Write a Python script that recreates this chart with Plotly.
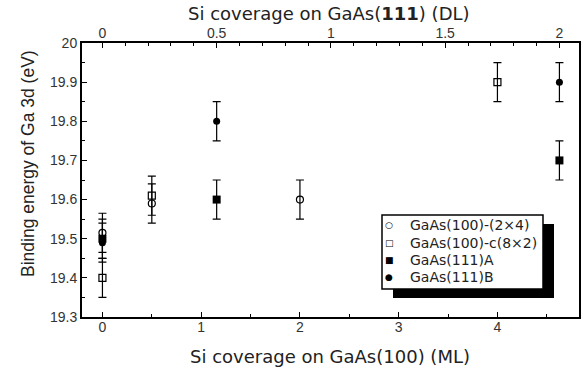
import plotly.graph_objects as go

# ---- data ----
cov100_2x4 = [0.0, 0.5, 2.0]          # ML
be_2x4 = [19.515, 19.59, 19.60]
cov100_c8x2 = [0.0, 0.5, 4.0]         # ML
be_c8x2 = [19.40, 19.61, 19.90]
cov111A = [0.0, 0.5, 2.0]             # DL
be_111A = [19.50, 19.60, 19.70]
cov111B = [0.0, 0.5, 2.0]             # DL
be_111B = [19.49, 19.80, 19.90]
err = 0.05

series_names = ["GaAs(100)-(2×4)", "GaAs(100)-c(8×2)", "GaAs(111)A", "GaAs(111)B"]
legend_glyphs = ["○", "□", "■", "●"]

y_ticks = [19.3, 19.4, 19.5, 19.6, 19.7, 19.8, 19.9, 20.0]
y_labels = ["19.3", "19.4", "19.5", "19.6", "19.7", "19.8", "19.9", "20"]
x_ticks = [0, 1, 2, 3, 4]
x_labels = ["0", "1", "2", "3", "4"]
x2_ticks = [0, 0.5, 1, 1.5, 2]
x2_labels = ["0", "0.5", "1", "1.5", "2"]

FONT = "Liberation Sans, Arial, sans-serif"
WIDE = "DejaVu Sans, sans-serif"
eb = dict(type="constant", value=err, color="black", thickness=1.2, width=4)

fig = go.Figure()
fig.add_trace(go.Scatter(x=cov100_2x4, y=be_2x4, mode="markers", name=series_names[0],
                         marker=dict(symbol="circle-open", size=7, color="black", line=dict(width=1.2)),
                         error_y=eb, xaxis="x", yaxis="y"))
fig.add_trace(go.Scatter(x=cov100_c8x2, y=be_c8x2, mode="markers", name=series_names[1],
                         marker=dict(symbol="square-open", size=7, color="black", line=dict(width=1.2)),
                         error_y=eb, xaxis="x", yaxis="y"))
fig.add_trace(go.Scatter(x=cov111A, y=be_111A, mode="markers", name=series_names[2],
                         marker=dict(symbol="square", size=8, color="black"),
                         error_y=eb, xaxis="x2", yaxis="y"))
fig.add_trace(go.Scatter(x=cov111B, y=be_111B, mode="markers", name=series_names[3],
                         marker=dict(symbol="circle", size=7, color="black"),
                         error_y=eb, xaxis="x2", yaxis="y"))

axis_common = dict(showgrid=False, zeroline=False, showline=True, linecolor="black", linewidth=2,
                   ticks="inside", ticklen=5, tickwidth=1.2, tickcolor="black", automargin=False,
                   tickfont=dict(family=FONT, size=14, color="#333"))

# Plot box on the page: x 82..579, y 43..317.
def px(x):
    return (x - 82) / 497.0

def py(y):
    return (317 - y) / 274.0

annotations = [
    dict(text="Si coverage on GaAs(100) (ML)", x=px(329.5), y=py(356), xref="paper", yref="paper",
         showarrow=False, xanchor="center", yanchor="middle", font=dict(family=WIDE, size=18, color="#222")),
    dict(text="Si coverage on GaAs(<b>111</b>) (DL)", x=px(329), y=py(14), xref="paper", yref="paper",
         showarrow=False, xanchor="center", yanchor="middle", font=dict(family=WIDE, size=18, color="#222")),
    dict(text="Binding energy of Ga 3d (eV)", x=px(28), y=py(164), xref="paper", yref="paper",
         showarrow=False, xanchor="center", yanchor="middle", textangle=-90,
         font=dict(family=FONT, size=17.5, color="#222")),
]
item_y = [225, 242.7, 260, 276.7]
for name, glyph, yy in zip(series_names, legend_glyphs, item_y):
    annotations.append(dict(text=glyph, x=px(389), y=py(yy), xref="paper", yref="paper", showarrow=False,
                            xanchor="center", yanchor="middle",
                            font=dict(family="DejaVu Sans", size=9, color="black")))
    annotations.append(dict(text=name, x=px(408), y=py(yy), xref="paper", yref="paper", showarrow=False,
                            xanchor="left", yanchor="middle",
                            font=dict(family=WIDE, size=14, color="#222")))

shapes = [
    dict(type="rect", xref="paper", yref="paper", layer="above",
         x0=px(393), x1=px(554), y0=py(298), y1=py(224), fillcolor="black", line=dict(width=0)),
    dict(type="rect", xref="paper", yref="paper", layer="above",
         x0=px(382), x1=px(543), y0=py(289), y1=py(215), fillcolor="white",
         line=dict(color="black", width=1.5)),
]

fig.update_layout(
    width=585, height=368,
    margin=dict(l=82, r=6, t=43, b=51, autoexpand=False),
    paper_bgcolor="white", plot_bgcolor="white",
    font=dict(family=FONT, color="#222"),
    xaxis=dict(range=[-0.207, 4.826], tickvals=x_ticks, ticktext=x_labels, ticklabelstandoff=-4,
               minor=dict(dtick=0.5, tick0=0, ticks="inside", ticklen=3, tickcolor="black"),
               **axis_common),
    xaxis2=dict(range=[-0.0893, 2.0857], overlaying="x", side="top", anchor="y",
                tickvals=x2_ticks, ticktext=x2_labels, ticklabelstandoff=-3,
                minor=dict(dtick=0.1, tick0=0, ticks="inside", ticklen=3, tickcolor="black"),
                **axis_common),
    yaxis=dict(range=[19.3, 20.0], tickvals=y_ticks, ticktext=y_labels, mirror=True,
               minor=dict(dtick=0.05, tick0=19.3, ticks="inside", ticklen=3, tickcolor="black"),
               **axis_common),
    showlegend=False,
    annotations=annotations,
    shapes=shapes,
)

# remove the browser's default 8px body margin so the figure fills the window exactly
fig.write_html("out.html", config={"displayModeBar": False},
               post_script="document.body.style.margin='0';")
